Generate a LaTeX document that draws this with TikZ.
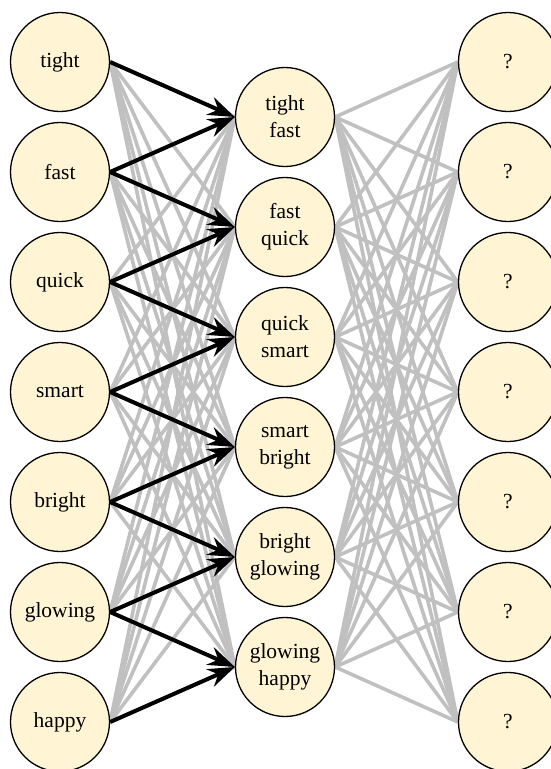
\documentclass[tikz,border=0pt]{standalone}
\usepackage{fontspec}
\setmainfont{Liberation Serif}
\usetikzlibrary{arrows.meta}
\definecolor{cream}{RGB}{255,244,212}
\definecolor{wire}{RGB}{192,192,192}
\pgfdeclarelayer{wires}
\pgfsetlayers{wires,main}
\tikzset{
  unit/.style={circle, draw=black, line width=1.3pt, fill=cream, minimum size=99pt,
    inner sep=0pt, align=center, font=\fontsize{21.5}{27}\selectfont},
  link/.style={draw=wire, line width=3.6pt},
  pairlink/.style={draw=black, line width=4pt,
    -{Stealth[length=27pt, width=19pt, inset=9pt]}},
}
\begin{document}
\begin{tikzpicture}[x=1pt, y=-1pt]
\useasboundingbox (0,0) rectangle (550,769);

% input words
\foreach \w [count=\i] in {tight,fast,quick,smart,bright,glowing,happy}
  \node[unit] (in\i) at (60, {62+110*(\i-1)}) {\w};

% word pairs
\node[unit] (mid1) at (285,117) {tight\\fast};
\node[unit] (mid2) at (285,227) {fast\\quick};
\node[unit] (mid3) at (285,337) {quick\\smart};
\node[unit] (mid4) at (285,447) {smart\\bright};
\node[unit] (mid5) at (285,557) {bright\\glowing};
\node[unit] (mid6) at (285,667) {glowing\\happy};

% unknown outputs
\foreach \i in {1,...,7}
  \node[unit] (out\i) at (508, {62+110*(\i-1)}) {?};

\begin{pgfonlayer}{wires}
  % full connections in grey
  \foreach \i in {1,...,7}
    \foreach \j in {1,...,6}
      \draw[link] (in\i.east) -- (mid\j.west);
  \foreach \j in {1,...,6}
    \foreach \k in {1,...,7}
      \draw[link] (mid\j.east) -- (out\k.west);
  % each pair is fed by its two words
  \foreach \j [evaluate=\j as \n using int(\j+1)] in {1,...,6} {
    \draw[pairlink] (in\j.east) -- (mid\j.west);
    \draw[pairlink] (in\n.east) -- (mid\j.west);
  }
\end{pgfonlayer}
\end{tikzpicture}
\end{document}
